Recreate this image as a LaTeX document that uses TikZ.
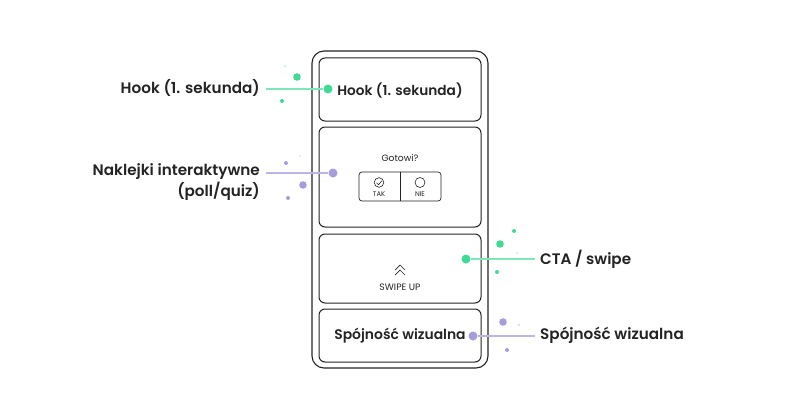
\documentclass[tikz,border=0pt]{standalone}
\usepackage{fontspec}
\setmainfont{Poppins}[BoldFont=Poppins SemiBold]
\usetikzlibrary{calc}
\definecolor{ink}{HTML}{232323}
\definecolor{grn}{HTML}{3FDB94}
\definecolor{grnl}{HTML}{7FE6B6}
\definecolor{prp}{HTML}{A99CDD}
\definecolor{prpl}{HTML}{BDB4E6}
\tikzset{
  x=1pt, y=-1pt,
  panel/.style={draw=ink, line width=1pt, rounded corners=6pt},
  lbl/.style={font=\bfseries\fontsize{15.2}{21}\selectfont, text=ink, inner sep=0pt},
  gdot/.style={circle, fill=grn, inner sep=0pt, minimum size=#1},
  pdot/.style={circle, fill=prp, inner sep=0pt, minimum size=#1},
  gline/.style={draw=grnl, line width=1.1pt},
  pline/.style={draw=prpl, line width=1.1pt},
}
\begin{document}
\begin{tikzpicture}
\useasboundingbox (0,0) rectangle (800,420);
% phone
\draw[draw=ink, line width=1.1pt, rounded corners=12pt] (312,51) rectangle (488,368);
\draw[panel] (319,58) rectangle (481,121);
\draw[panel] (319,127) rectangle (481,227);
\draw[panel] (319,234) rectangle (481,303);
\draw[panel] (319,309) rectangle (481,362);
% panel texts
\node[font=\bfseries\fontsize{13.7}{16}\selectfont, text=ink] (hookt) at (400,91) {Hook (1. sekunda)};
\node[font=\fontsize{9.2}{11}\selectfont, text=ink] (gotowi) at (400,158) {Gotowi?};
\draw[draw=ink, line width=0.7pt, rounded corners=3pt] (359,172) rectangle (441,201);
\draw[draw=ink, line width=0.7pt] (400,172) -- (400,201);
\draw[draw=ink, line width=0.6pt] (379,182.5) circle (4.8);
\draw[draw=ink, line width=0.6pt] (376.5,182.8) -- (378.5,184.8) -- (381.8,180.8);
\draw[draw=ink, line width=0.6pt] (420,182.5) circle (5);
\node[font=\fontsize{6.8}{8}\selectfont, text=ink] (tak) at (379,194.5) {TAK};
\node[font=\fontsize{6.8}{8}\selectfont, text=ink] (nie) at (420,194.5) {NIE};
\draw[draw=ink, line width=0.7pt] (395,270) -- (400,265) -- (405,270);
\draw[draw=ink, line width=0.7pt] (395,275) -- (400,270) -- (405,275);
\node[font=\fontsize{9.3}{11}\selectfont, text=ink] (swipe) at (400,287) {SWIPE UP};
\node[font=\bfseries\fontsize{13.9}{16}\selectfont, text=ink] (spojt) at (400,336) {Spójność wizualna};
% callouts
\node[gdot=9pt] (d1) at (328,89) {};
\node[lbl, anchor=east] (l1) at (260,88) {Hook (1. sekunda)};
\draw[gline] (266,89) -- (d1);
\node[pdot=9pt] (d2) at (333,173) {};
\node[lbl, anchor=east, align=right] (l2) at (260,182.5) {Naklejki interaktywne\\(poll/quiz)};
\draw[pline] (266,173) -- (d2);
\node[gdot=9pt] (d3) at (466,259) {};
\node[lbl, anchor=west] (l3) at (540,259) {CTA / swipe};
\draw[gline] (d3) -- (535,259);
\node[pdot=9pt] (d4) at (473,336) {};
\node[lbl, anchor=west] (l4) at (540,335) {Spójność wizualna};
\draw[pline] (d4) -- (535,336);
% decorative dots
\fill[grn] (297,77) circle (3.8);
\fill[grn] (282,101) circle (2);
\fill[grn!25] (285,66) circle (1.5);
\fill[prp] (303,185) circle (3.8);
\fill[prp] (286,163) circle (2);
\fill[prp] (288,198) circle (2);
\fill[prp!20] (300,156) circle (1.5);
\fill[grn] (500,244) circle (3.8);
\fill[grn] (514,231) circle (2);
\fill[grn] (497,272) circle (2);
\fill[grn!20] (517,253) circle (1.5);
\fill[prp] (503,322) circle (3.8);
\fill[prp!30] (519,325) circle (1.7);
\fill[prp] (507,350) circle (2);
\end{tikzpicture}
\end{document}
